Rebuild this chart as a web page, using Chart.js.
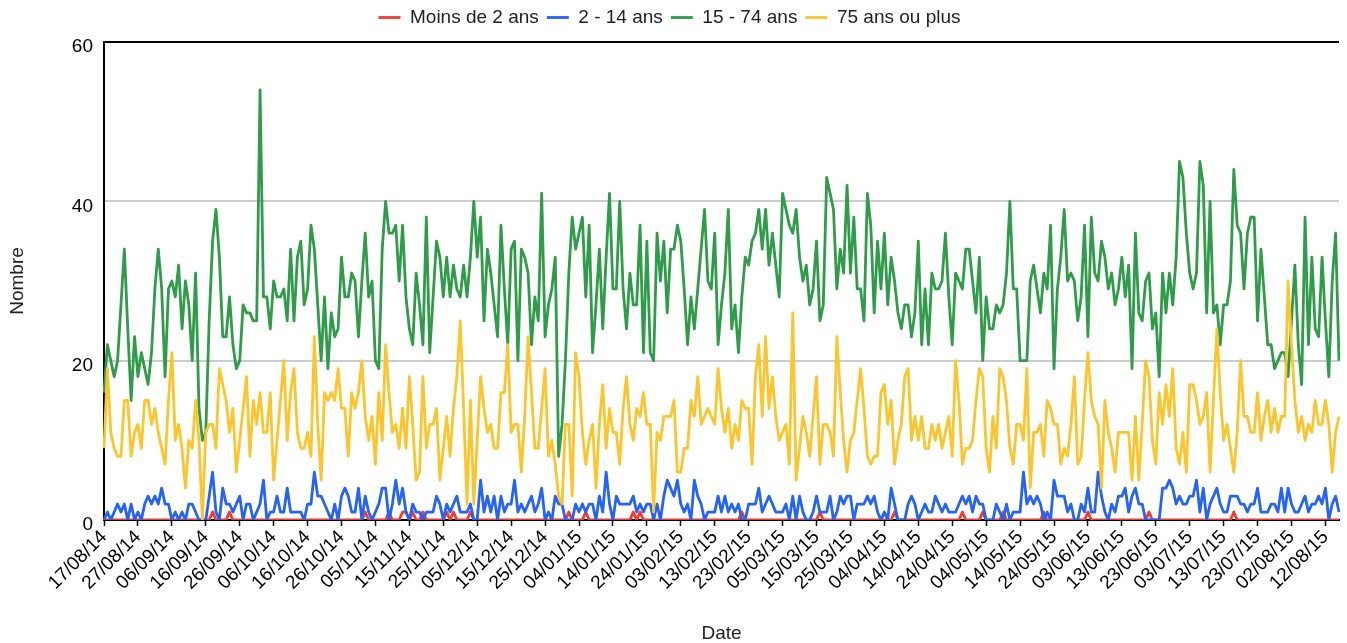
<!DOCTYPE html>
<html>
<head>
<meta charset="utf-8">
<script src="https://cdn.jsdelivr.net/npm/chart.js@4/dist/chart.umd.min.js"></script>
<style>
  body { margin: 0; background: #fff; }
</style>
</head>
<body>
<canvas id="ageChart" width="1347" height="643"></canvas>
<script>
// daily counts from 17/08/14, one value per day
const moins2 = [
  0,0,0,0,0,0,0,0,0,0, 0,0,0,0,0,0,0,0,0,0, 0,0,0,0,0,0,0,0,0,0,
  0,0,1,0,0,0,0,1,0,0, 0,0,0,0,0,0,0,0,0,0, 0,0,0,0,0,0,0,0,0,0,
  0,0,0,0,0,0,0,0,0,0, 0,0,0,0,0,0,0,1,0,0, 0,0,0,0,1,0,0,0,1,1,
  0,1,0,0,1,0,0,0,0,0, 0,1,0,1,0,0,0,0,1,0, 0,0,0,0,0,0,0,0,0,0,
  0,0,0,0,0,0,0,0,0,0, 0,0,0,0,0,0,0,1,0,0, 0,0,1,0,0,0,0,0,0,0,
  0,0,0,0,0,0,1,0,1,0, 0,0,0,0,0,0,0,0,0,0, 0,0,0,0,0,0,0,0,0,0,
  0,0,0,0,0,0,0,0,1,0, 0,0,0,0,0,0,0,0,0,0, 0,0,0,0,0,0,0,0,0,0,
  0,1,0,0,0,0,0,0,0,0, 0,0,0,0,0,0,0,0,0,0, 0,0,0,1,0,0,0,0,0,0,
  0,0,0,0,0,0,0,0,0,0, 0,0,0,1,0,0,0,0,0,1, 0,0,0,0,0,1,0,0,0,0,
  0,0,0,0,0,0,0,1,0,0, 0,0,0,0,0,0,0,0,0,0, 1,0,0,0,0,0,0,0,0,0,
  0,0,0,0,0,0,0,0,1,0, 0,0,0,0,0,0,0,0,0,0, 0,0,0,0,0,0,0,0,0,0,
  0,0,0,1,0,0,0,0,0,0, 0,0,0,0,0,0,0,0,0,0, 0,0,0,0,0,0,0,0,0,0,
  0,0,0,0,0
];
const de2a14 = [
  0,1,0,1,2,1,2,0,2,0, 1,0,2,3,2,3,2,4,2,2, 0,1,0,1,0,2,2,1,0,0,
  0,3,6,1,0,4,2,2,1,2, 3,0,2,2,0,1,2,5,0,1, 1,3,1,1,4,1,1,1,1,0,
  2,2,6,3,3,2,1,0,2,0, 3,4,3,1,1,4,0,3,1,0, 1,2,4,4,0,2,5,2,4,1,
  0,2,1,1,0,1,1,1,3,2, 0,2,1,2,3,1,1,1,2,0, 0,5,1,3,1,3,0,3,1,2,
  2,5,1,2,1,2,3,1,2,4, 0,1,0,3,2,2,0,0,0,2, 1,2,1,2,2,0,3,1,6,2,
  0,3,2,2,2,2,3,1,2,1, 2,2,0,2,0,3,5,4,3,5, 2,1,2,0,5,3,2,0,1,1,
  1,3,1,3,1,2,1,2,0,0, 2,2,2,4,1,2,3,2,1,1, 1,2,0,3,0,3,1,0,0,1,
  3,1,1,1,3,0,1,3,2,3, 3,0,2,2,2,3,2,3,1,0, 1,0,4,2,0,0,0,2,3,2,
  0,1,2,1,1,3,2,1,2,1, 1,1,2,3,2,3,1,3,2,2, 0,0,0,2,1,0,2,0,1,1,
  1,6,2,3,2,3,2,0,1,0, 5,3,3,3,1,2,0,0,2,1, 4,1,1,6,3,1,0,2,1,3,
  3,4,1,3,4,2,2,0,0,0, 0,0,4,4,5,4,2,3,2,2, 3,3,5,1,4,0,2,3,4,2,
  1,1,3,3,3,2,2,1,2,2, 4,1,1,1,2,2,1,4,1,4, 2,1,1,2,3,1,2,2,3,2,
  4,0,2,3,1
];
const de15a74 = [
  16,22,20,18,20,27,34,24,15,23, 18,21,19,17,21,29,34,29,18,29, 30,28,32,24,30,27,20,31,14,10,
  11,25,35,39,33,23,23,28,22,19, 20,27,26,26,25,25,54,28,28,24, 30,28,28,29,25,34,25,33,35,27,
  29,37,34,27,20,28,19,26,23,24, 33,28,28,31,30,23,30,36,28,30, 20,19,34,40,36,36,37,30,37,28,
  24,22,31,27,22,38,21,28,35,33, 28,33,28,32,29,28,32,28,33,40, 33,38,25,34,31,27,23,37,29,22,
  34,35,20,34,33,31,22,28,25,41, 23,27,29,33,8,12,20,31,38,34, 36,38,28,37,21,27,34,24,33,41,
  29,29,40,29,24,31,27,27,37,21, 35,21,20,36,30,35,26,34,34,37, 35,29,22,28,24,29,34,39,30,29,
  36,22,27,31,39,24,27,21,28,33, 32,35,36,39,34,39,32,36,32,28, 41,39,37,36,39,33,30,32,27,29,
  35,25,27,43,41,39,29,34,31,42, 31,38,29,29,25,41,37,26,35,29, 36,27,33,30,26,24,27,27,23,26,
  35,22,29,22,31,29,29,30,36,28, 22,31,30,29,34,34,30,26,33,20, 28,24,24,27,26,27,31,40,29,29,
  20,20,20,30,32,29,26,31,29,37, 19,29,33,39,30,31,30,25,28,37, 23,38,31,30,35,33,29,31,27,29,
  33,28,32,19,36,26,25,30,31,24, 26,18,31,26,31,27,33,45,43,36, 31,29,31,45,42,26,40,26,27,22,
  27,27,30,44,37,36,29,36,38,38, 25,34,28,22,22,19,20,21,21,18, 25,32,22,17,38,22,33,24,23,33,
  25,18,30,36,20
];
const plus75 = [
  9,19,11,9,8,8,15,15,8,11, 12,9,15,15,12,14,11,9,7,15, 21,10,12,9,4,10,9,15,10,0,
  11,12,12,9,19,17,15,11,14,6, 10,14,18,8,15,12,16,11,11,16, 5,10,15,20,10,16,19,11,9,9,
  11,8,23,12,5,16,15,16,15,19, 14,14,8,16,14,16,20,13,10,13, 7,16,10,22,16,11,12,9,14,9,
  18,12,5,6,18,9,12,12,14,5, 9,13,8,14,18,25,14,2,15,2, 10,18,14,11,12,9,9,16,16,22,
  11,12,12,6,13,23,16,9,9,14, 19,8,10,7,3,2,12,12,3,21, 18,11,7,10,12,4,12,17,9,14,
  11,11,7,14,18,12,10,14,13,16, 12,12,1,11,10,13,13,13,15,6, 6,9,9,15,13,18,12,13,14,13,
  12,19,14,11,14,9,12,10,15,14, 14,7,18,22,13,23,14,18,13,10, 11,12,7,26,5,9,13,11,8,13,
  18,7,12,12,11,8,23,16,10,6, 10,11,15,19,14,8,7,8,8,16, 17,12,15,7,10,12,18,19,10,13,
  10,13,9,9,12,10,12,9,11,13, 8,20,15,7,9,9,10,15,19,18, 9,6,13,9,19,18,15,9,7,12,
  12,10,19,4,11,11,12,8,15,14, 12,12,7,9,8,12,18,7,8,15, 21,15,13,12,4,15,11,9,6,11,
  11,11,11,5,13,5,12,20,18,10, 7,16,12,17,13,19,9,7,11,6, 17,17,15,12,13,16,6,15,24,16,
  10,12,9,6,11,20,13,13,11,11, 16,10,13,15,11,14,11,13,13,30, 22,15,11,13,10,12,11,15,12,12,
  15,12,6,11,13
];
const seriesNames = ['Moins de 2 ans', '2 - 14 ans', '15 - 74 ans', '75 ans ou plus'];
const seriesColors = ['#f23a35', '#2463f5', '#2e9c48', '#fcc52c'];
const yTicks = [0, 20, 40, 60];

// one label per day, dd/mm/yy
const dates = [];
const start = new Date(2014, 7, 17);
for (let i = 0; i < de15a74.length; i++) {
  const d = new Date(start.getFullYear(), start.getMonth(), start.getDate() + i);
  const dd = String(d.getDate()).padStart(2, '0');
  const mm = String(d.getMonth() + 1).padStart(2, '0');
  const yy = String(d.getFullYear()).slice(2);
  dates.push(dd + '/' + mm + '/' + yy);
}

Chart.defaults.font.family = 'Arial, "Liberation Sans", sans-serif';

const legendHeight = {
  id: 'legendHeight',
  afterInit(chart) {
    const legend = chart.legend;
    const fit = legend.fit;
    legend.fit = function () {
      fit.call(this);
      this.height = 42;
    };
  }
};

const allSeries = [moins2, de2a14, de15a74, plus75];
const ctx = document.getElementById('ageChart');
const ageChart = new Chart(ctx, {
  type: 'line',
  data: {
    labels: dates,
    datasets: allSeries.map(function (vals, i) {
      return {
        label: seriesNames[i],
        data: vals,
        borderColor: seriesColors[i],
        backgroundColor: seriesColors[i],
        borderWidth: 2.8,
        borderJoinStyle: 'round',
        pointRadius: 0,
        tension: 0,
        order: 3 - i
      };
    })
  },
  plugins: [legendHeight],
  options: {
    responsive: false,
    animation: false,
    layout: { padding: { left: 0, right: 8, top: 0, bottom: 0 } },
    plugins: {
      tooltip: { enabled: false },
      legend: {
        position: 'top',
        labels: {
          usePointStyle: true,
          pointStyle: 'line',
          pointStyleWidth: 22,
          padding: 8,
          color: '#222',
          font: { size: 19 },
          sort: function (a, b) { return a.datasetIndex - b.datasetIndex; }
        }
      }
    },
    scales: {
      x: {
        type: 'category',
        offset: false,
        afterFit: function (scale) {
          scale.height = 123;
          scale.paddingRight = 0;
        },
        grid: {
          drawOnChartArea: false,
          drawTicks: true,
          tickLength: 6,
          tickWidth: 1.5,
          tickColor: function (c) { return c.index % 10 === 0 ? '#000' : 'rgba(0,0,0,0)'; }
        },
        border: { color: '#000', width: 2 },
        ticks: {
          autoSkip: false,
          minRotation: 45,
          maxRotation: 45,
          padding: 0,
          color: '#000',
          font: { size: 19 },
          callback: function (v, i) { return i % 10 === 0 ? dates[i] : ''; }
        },
        title: {
          display: true,
          text: 'Date',
          color: '#222',
          font: { size: 19 },
          padding: { top: 0, bottom: -2 }
        }
      },
      y: {
        min: yTicks[0],
        max: yTicks[yTicks.length - 1],
        afterFit: function (scale) { scale.width = 104; },
        afterBuildTicks: function (scale) {
          scale.ticks = yTicks.map(function (v) { return { value: v }; });
        },
        grid: {
          drawTicks: false,
          lineWidth: 2,
          color: function (c) { return c.tick && c.tick.value === 60 ? '#000' : '#cccccc'; }
        },
        border: { color: '#000', width: 2 },
        ticks: {
          padding: 11,
          labelOffset: 5,
          color: '#000',
          font: { size: 19 }
        },
        title: {
          display: true,
          text: 'Nombre',
          color: '#222',
          font: { size: 19 },
          padding: { top: 6, bottom: 0 }
        }
      }
    }
  }
});
</script>
</body>
</html>
